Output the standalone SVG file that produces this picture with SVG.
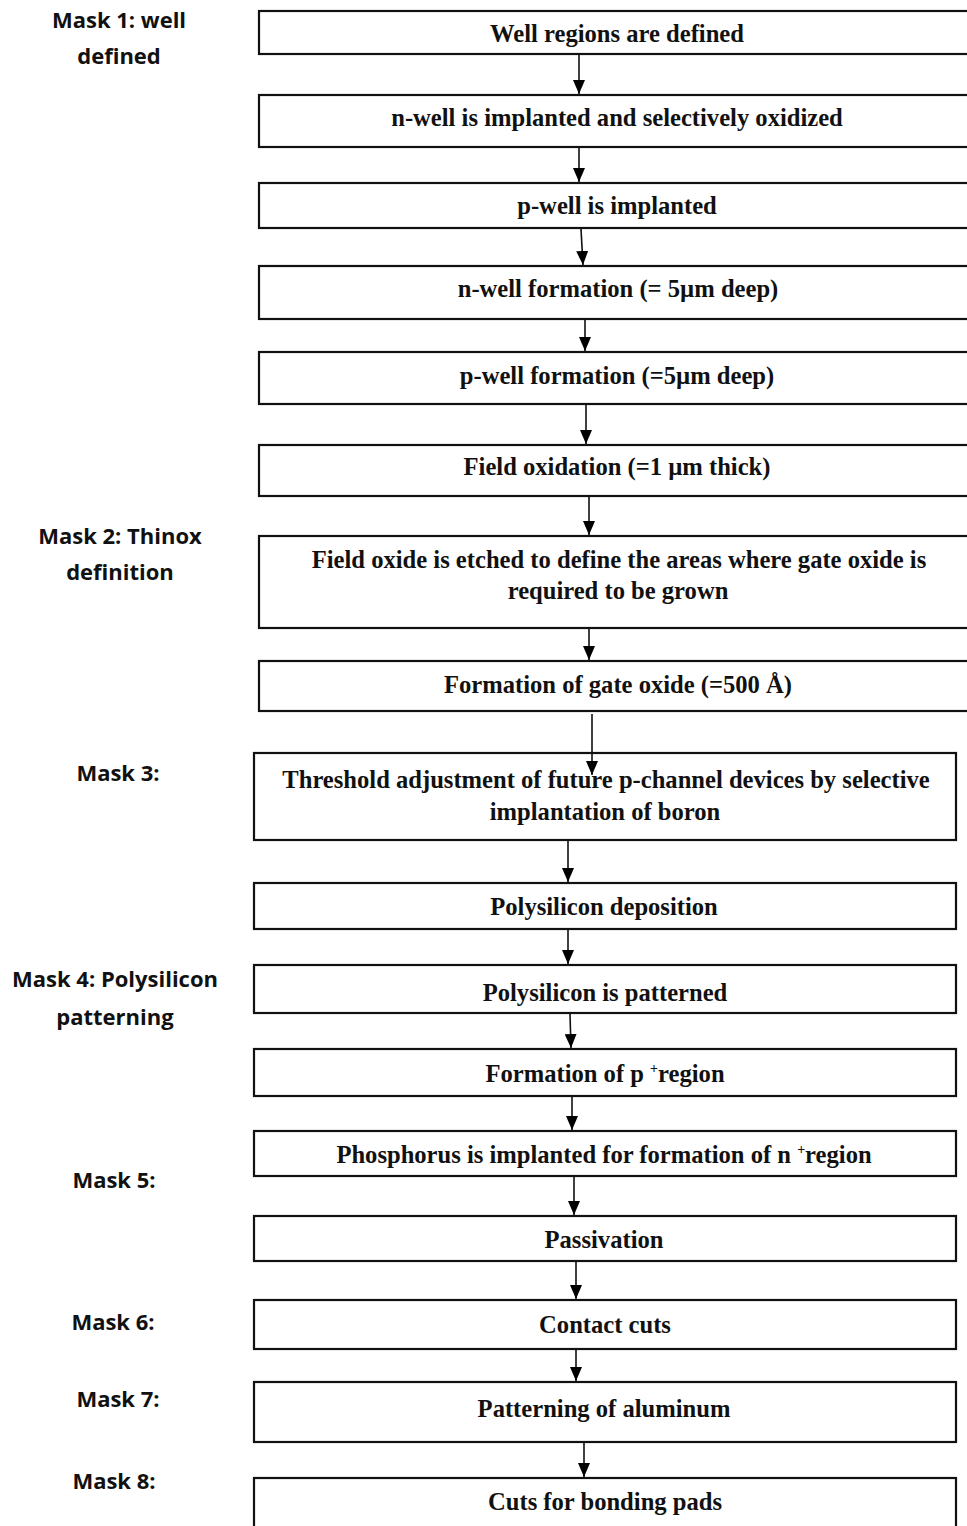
<svg xmlns="http://www.w3.org/2000/svg" width="967" height="1526" viewBox="0 0 967 1526">
<defs>
<marker id="ah" markerUnits="userSpaceOnUse" markerWidth="14" markerHeight="12" refX="14" refY="6" orient="auto" viewBox="0 0 14 12">
<path d="M0,0 L14,6 L0,12 Z" fill="#000"/>
</marker>
<style>
rect.box{fill:#fff;stroke:#111;stroke-width:2.2}
text.t{font-family:"Liberation Serif","Times New Roman",serif;font-weight:bold;font-size:24.6px;fill:#111;text-anchor:middle}
text.m{font-family:"Open Sans","Liberation Sans",sans-serif;font-weight:bold;font-size:22px;fill:#111;text-anchor:middle}
.sup{font-size:14px}
line.c{stroke:#111;stroke-width:1.6}
</style>
</defs>
<rect x="0" y="0" width="967" height="1526" fill="#fff"/>

<g id="labels">
<text class="m" x="119" y="28">Mask 1: well</text>
<text class="m" x="119" y="64">defined</text>
<text class="m" x="120" y="544">Mask 2: Thinox</text>
<text class="m" x="120" y="580">definition</text>
<text class="m" x="118" y="781">Mask 3:</text>
<text class="m" x="115" y="987">Mask 4: Polysilicon</text>
<text class="m" x="115" y="1025">patterning</text>
<text class="m" x="114" y="1188">Mask 5:</text>
<text class="m" x="113" y="1330">Mask 6:</text>
<text class="m" x="118" y="1407">Mask 7:</text>
<text class="m" x="114" y="1489">Mask 8:</text>
</g>

<g id="n1"><rect class="box" x="259" y="11" width="720" height="43"/><text class="t" x="617" y="42">Well regions are defined</text></g>
<g id="n2"><rect class="box" x="259" y="95" width="720" height="52"/><text class="t" x="617" y="126">n-well is implanted and selectively oxidized</text></g>
<g id="n3"><rect class="box" x="259" y="183" width="720" height="45"/><text class="t" x="617" y="214">p-well is implanted</text></g>
<g id="n4"><rect class="box" x="259" y="266" width="720" height="53"/><text class="t" x="618" y="297">n-well formation (= 5µm deep)</text></g>
<g id="n5"><rect class="box" x="259" y="352" width="720" height="52"/><text class="t" x="617" y="384">p-well formation (=5µm deep)</text></g>
<g id="n6"><rect class="box" x="259" y="445" width="720" height="51"/><text class="t" x="617" y="475">Field oxidation (=1 µm thick)</text></g>
<g id="n7"><rect class="box" x="259" y="536" width="720" height="92"/><text class="t" x="619" y="568">Field oxide is etched to define the areas where gate oxide is</text><text class="t" x="618" y="599">required to be grown</text></g>
<g id="n8"><rect class="box" x="259" y="661" width="720" height="50"/><text class="t" x="618" y="693">Formation of gate oxide (=500 Å)</text></g>
<g id="n9"><rect class="box" x="254" y="753" width="702" height="87"/><text class="t" x="606" y="788">Threshold adjustment of future p-channel devices by selective</text><text class="t" x="605" y="820">implantation of boron</text></g>
<g id="n10"><rect class="box" x="254" y="883" width="702" height="46"/><text class="t" x="604" y="915">Polysilicon deposition</text></g>
<g id="n11"><rect class="box" x="254" y="965" width="702" height="48"/><text class="t" x="605" y="1001">Polysilicon is patterned</text></g>
<g id="n12"><rect class="box" x="254" y="1049" width="702" height="47"/><text class="t" x="605" y="1082">Formation of p <tspan class="sup" dy="-9">+</tspan><tspan dy="9">region</tspan></text></g>
<g id="n13"><rect class="box" x="254" y="1131" width="702" height="45"/><text class="t" x="604" y="1163">Phosphorus is implanted for formation of n <tspan class="sup" dy="-9">+</tspan><tspan dy="9">region</tspan></text></g>
<g id="n14"><rect class="box" x="254" y="1216" width="702" height="45"/><text class="t" x="604" y="1248">Passivation</text></g>
<g id="n15"><rect class="box" x="254" y="1300" width="702" height="49"/><text class="t" x="605" y="1333">Contact cuts</text></g>
<g id="n16"><rect class="box" x="254" y="1382" width="702" height="60"/><text class="t" x="604" y="1417">Patterning of aluminum</text></g>
<g id="n17"><rect class="box" x="254" y="1478" width="702" height="60"/><text class="t" x="605" y="1510">Cuts for bonding pads</text></g>

<g id="connectors">
<line class="c" x1="579" y1="55" x2="579" y2="94" marker-end="url(#ah)"/>
<line class="c" x1="579" y1="148" x2="579" y2="182" marker-end="url(#ah)"/>
<line class="c" x1="581" y1="229" x2="583" y2="265" marker-end="url(#ah)"/>
<line class="c" x1="585" y1="320" x2="585" y2="351" marker-end="url(#ah)"/>
<line class="c" x1="586" y1="405" x2="586" y2="444" marker-end="url(#ah)"/>
<line class="c" x1="589" y1="497" x2="589" y2="535" marker-end="url(#ah)"/>
<line class="c" x1="589" y1="629" x2="589" y2="660" marker-end="url(#ah)"/>
<line class="c" x1="592" y1="714" x2="592" y2="775" marker-end="url(#ah)"/>
<line class="c" x1="568" y1="841" x2="568" y2="882" marker-end="url(#ah)"/>
<line class="c" x1="568" y1="930" x2="568" y2="964" marker-end="url(#ah)"/>
<line class="c" x1="570" y1="1014" x2="571" y2="1048" marker-end="url(#ah)"/>
<line class="c" x1="572" y1="1097" x2="572" y2="1130" marker-end="url(#ah)"/>
<line class="c" x1="574" y1="1177" x2="574" y2="1215" marker-end="url(#ah)"/>
<line class="c" x1="576" y1="1262" x2="576" y2="1299" marker-end="url(#ah)"/>
<line class="c" x1="576" y1="1350" x2="576" y2="1381" marker-end="url(#ah)"/>
<line class="c" x1="584" y1="1443" x2="584" y2="1477" marker-end="url(#ah)"/>
</g>
</svg>
